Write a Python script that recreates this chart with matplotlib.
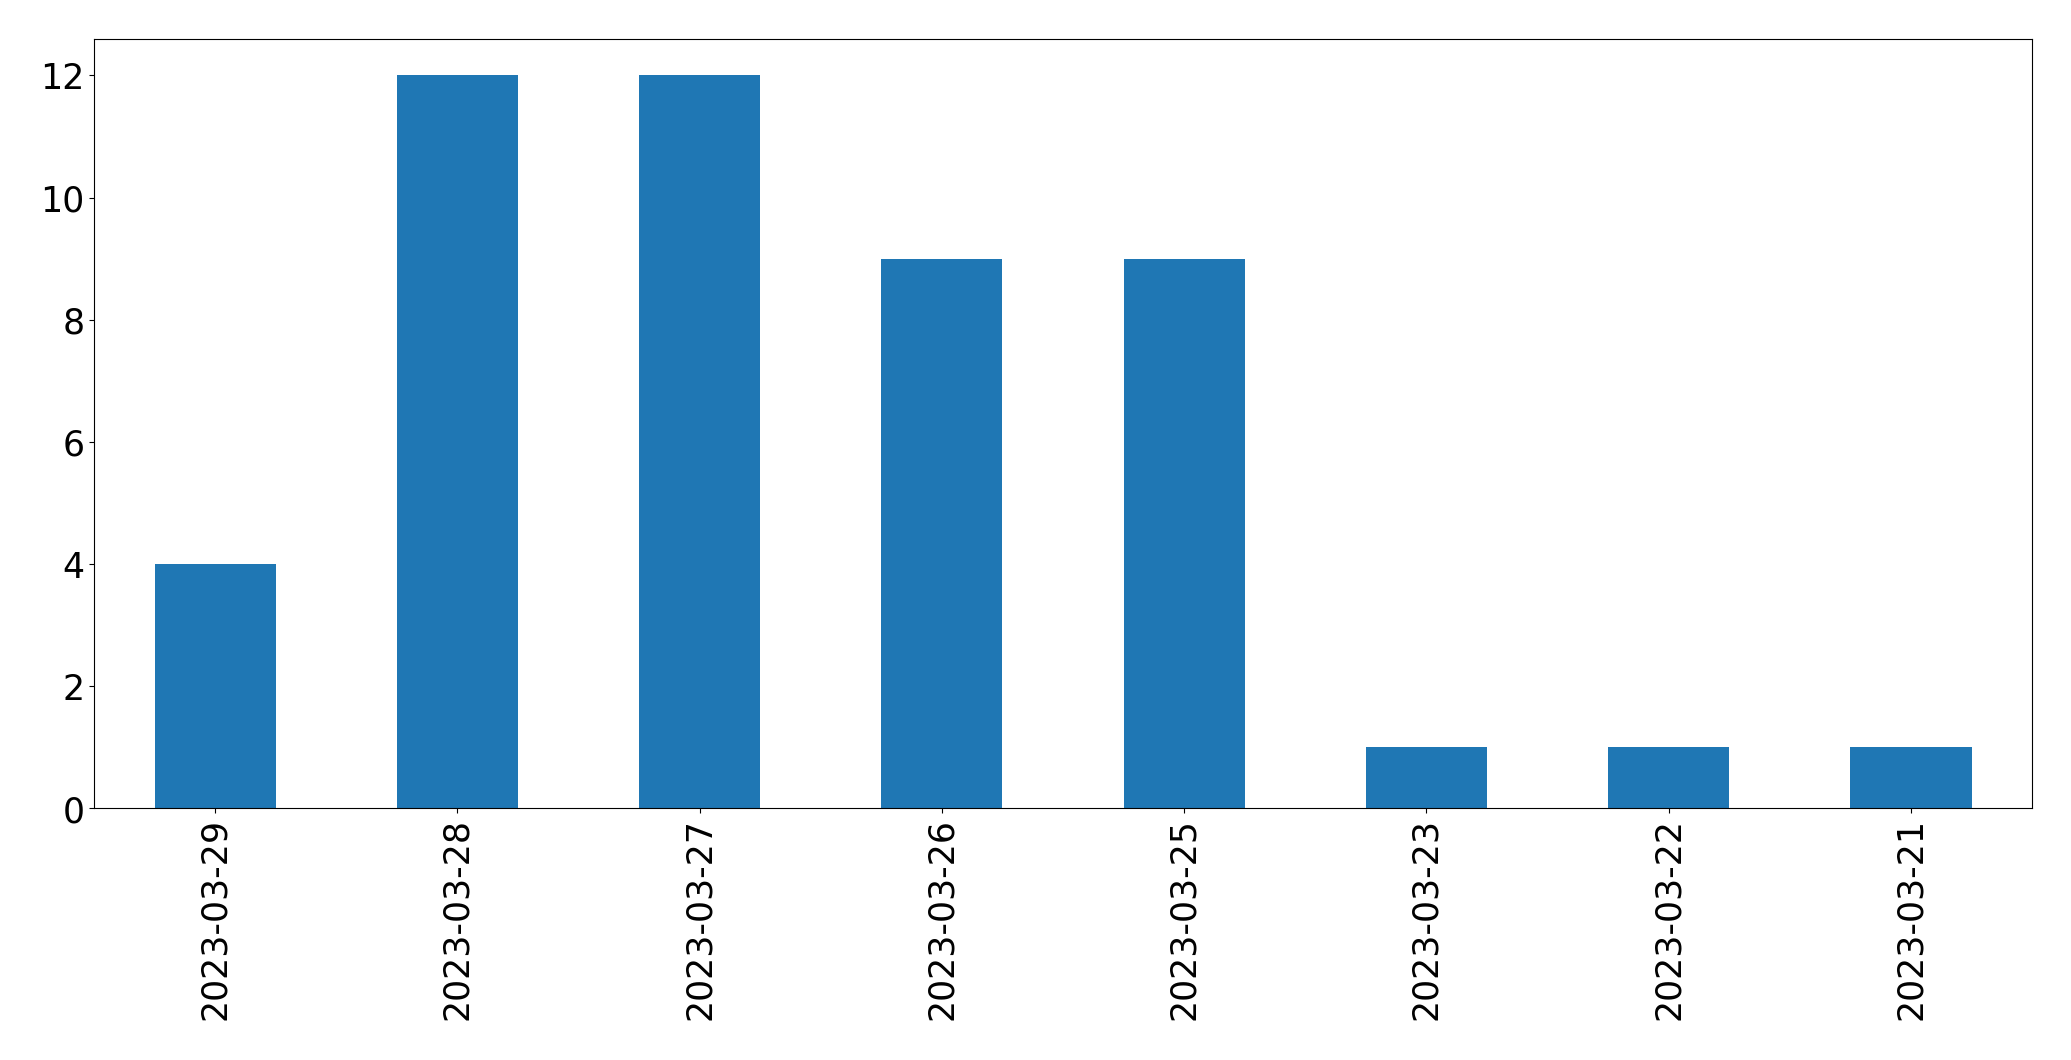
import matplotlib
matplotlib.use("Agg")
import matplotlib.pyplot as plt
import pandas as pd

# Werte
dates = ["2023-03-29", "2023-03-28", "2023-03-27", "2023-03-26",
         "2023-03-25", "2023-03-23", "2023-03-22", "2023-03-21"]
counts = [4, 12, 12, 9, 9, 1, 1, 1]

s = pd.Series(counts, index=dates)

fig = plt.figure(figsize=(20.71, 10.605), dpi=100)
ax = fig.add_axes([0.0454, 0.2375, 0.9358, 0.7255])
s.plot(kind="bar", ax=ax, color="C0")
ax.tick_params(axis="both", labelsize=25)
ax.set_xlabel("")

fig.savefig("out.png", dpi=100)
